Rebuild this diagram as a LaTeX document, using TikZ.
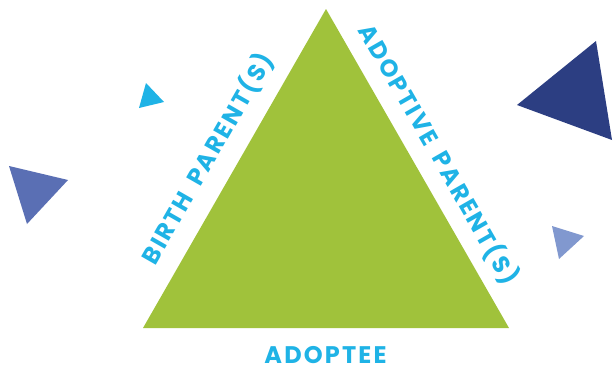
\documentclass[tikz,border=0pt]{standalone}
\usepackage{fontspec}
\newfontfamily\labfont{Poppins}[LetterSpace=9, WordSpace=1.6]
\definecolor{tgreen}{HTML}{A0C23B}
\definecolor{tcyan}{HTML}{1FB3E6}
\definecolor{tblue}{HTML}{5A6FB4}
\definecolor{tnavy}{HTML}{2C3E82}
\definecolor{tlight}{HTML}{8198CF}
\begin{document}
\begin{tikzpicture}[x=1pt,y=-1pt,
  lab/.style={text=tcyan, font=\labfont\bfseries\fontsize{24}{24}\selectfont, inner sep=0pt, anchor=base}]
\useasboundingbox (0,0) rectangle (613,367);
\fill[white] (0,0) rectangle (613,367);
% main triangle
\coordinate (ap) at (326,9);
\coordinate (bl) at (143,328);
\coordinate (br) at (509,328);
\fill[tgreen] (ap) -- (bl) -- (br) -- cycle;
% decorative triangles
\fill[tcyan] (146,83) -- (164,102) -- (139,108) -- cycle;
\fill[tblue] (9,166) -- (68,180) -- (27,224) -- cycle;
\fill[tnavy] (596,41) -- (517,105) -- (612,140) -- cycle;
\fill[tlight] (552,226) -- (584,236) -- (559,259) -- cycle;
% labels
\node[lab, rotate=60.2] (birth) at (214.8,162.8) {BIRTH PARENT(S)};
\node[lab, rotate=-60.2] (adoptive) at (431.3,158.4) {ADOPTIVE PARENT(S)};
\node[lab] (adoptee) at (325.5,363.5) {ADOPTEE};
\end{tikzpicture}
\end{document}
